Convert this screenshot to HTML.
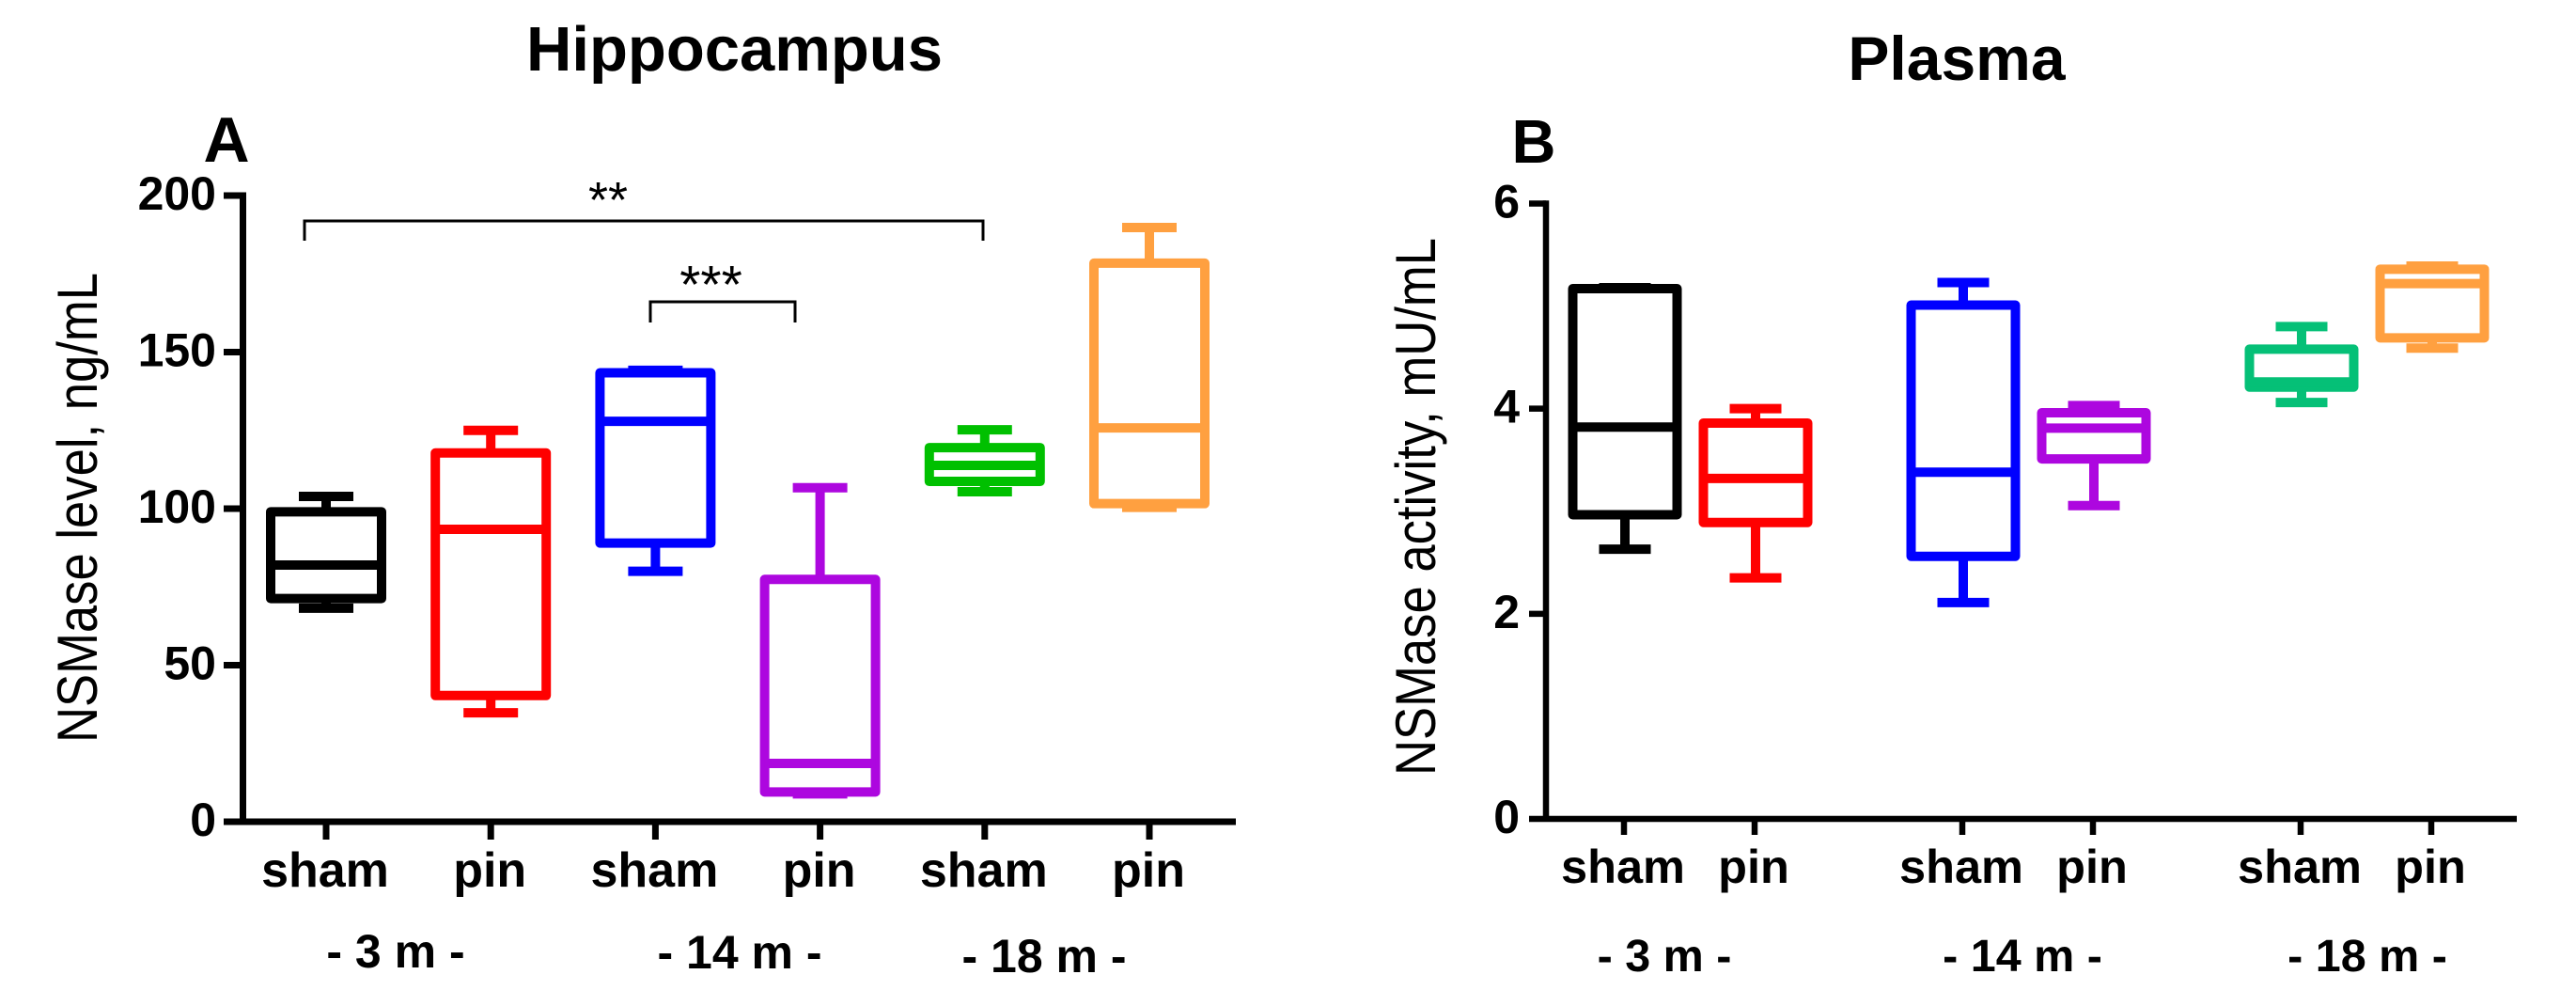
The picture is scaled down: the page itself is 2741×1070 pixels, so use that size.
<!DOCTYPE html>
<html lang="en">
<head>
<meta charset="utf-8">
<title>NSMase in hippocampus and plasma</title>
<style>
html,body{margin:0;padding:0;background:#fff;width:2741px;height:1070px;overflow:hidden}
svg{display:block}
text{font-family:"Liberation Sans",Arial,sans-serif;fill:#000}
.b{font-weight:700}
</style>
</head>
<body>
<svg id="fig" xmlns="http://www.w3.org/2000/svg" width="2741" height="1070" viewBox="0 0 2741 1070">
  <text class="b" x="781.5" y="75" font-size="67" text-anchor="middle">Hippocampus</text>
  <text class="b" x="2082" y="85" font-size="66" text-anchor="middle">Plasma</text>
  <text class="b" x="241" y="172" font-size="68" text-anchor="middle">A</text>
  <text class="b" x="1632" y="173" font-size="65" text-anchor="middle">B</text>

  <text transform="translate(103,790) rotate(-90)" font-size="60" textLength="500" lengthAdjust="spacingAndGlyphs">NSMase level, ng/mL</text>
  <text transform="translate(1527,825) rotate(-90)" font-size="60" textLength="572" lengthAdjust="spacingAndGlyphs">NSMase activity, mU/mL</text>

  <text class="b" x="421" y="1029" font-size="50" text-anchor="middle" xml:space="preserve">- 3 m -</text>
  <text class="b" x="787" y="1030" font-size="50" text-anchor="middle" xml:space="preserve">- 14 m -</text>
  <text class="b" x="1111" y="1034" font-size="50" text-anchor="middle" xml:space="preserve">- 18 m -</text>
  <text class="b" x="1771" y="1033" font-size="48.5" text-anchor="middle" xml:space="preserve">- 3 m -</text>
  <text class="b" x="2152" y="1033" font-size="48.5" text-anchor="middle" xml:space="preserve">- 14 m -</text>
  <text class="b" x="2519" y="1033" font-size="48.5" text-anchor="middle" xml:space="preserve">- 18 m -</text>

  <path d="M324 256V235H1046V256" fill="none" stroke="#000" stroke-width="3"/>
  <path d="M692 343V321H846V343" fill="none" stroke="#000" stroke-width="3"/>
  <text x="647" y="231" font-size="54" text-anchor="middle">**</text>
  <text x="756.5" y="322" font-size="57" text-anchor="middle">***</text>

  <g id="panelA"></g>
  <g id="panelB"></g>
</svg>
<script>
const categories = ['sham', 'pin', 'sham', 'pin', 'sham', 'pin'];

const hipMin = [68.2, 34.8, 80, 8.9, 105.4, 100.4];
const hipQ1 = [71.3, 40.3, 89, 9.5, 108.7, 101.6];
const hipMedian = [82, 93.4, 127.9, 18.6, 113.8, 125.8];
const hipQ3 = [99, 117.8, 143.4, 77.4, 119.5, 178.4];
const hipMax = [103.9, 125, 144.2, 106.7, 125.2, 189.8];
const hipTicks = [0, 50, 100, 150, 200];

const plaMin = [2.63, 2.35, 2.11, 3.055, 4.06, 4.59];
const plaQ1 = [2.966, 2.89, 2.56, 3.51, 4.21, 4.69];
const plaMedian = [3.82, 3.32, 3.38, 3.81, 4.26, 5.22];
const plaQ3 = [5.17, 3.86, 5.01, 3.96, 4.58, 5.36];
const plaMax = [5.18, 4.0, 5.23, 4.03, 4.80, 5.39];
const plaTicks = [0, 2, 4, 6];

const hipColors = ['#000000', '#ff0000', '#0000ff', '#ad07df', '#00c000', '#ffa040'];
const plaColors = ['#000000', '#ff0000', '#0000ff', '#ad07df', '#05c077', '#ffa040'];

const NS = 'http://www.w3.org/2000/svg';

function make(parent, tag, attrs, content) {
  const node = document.createElementNS(NS, tag);
  for (const k in attrs) node.setAttribute(k, attrs[k]);
  if (content !== undefined) node.textContent = content;
  parent.appendChild(node);
  return node;
}

function yHip(v) { return 874 - v * (874 - 208) / 200; }
function xHip(i) { return 347 + 175.2 * i; }
function yPla(v) { return 871 - v * (871 - 216.5) / 6; }
function xPla(i) { return 1728 + Math.floor(i / 2) * 360 + (i % 2) * 139; }

function drawPanel(cfg) {
  const root = cfg.root;
  const yAxis = make(root, 'line', {x1: cfg.axisX, x2: cfg.axisX, y1: cfg.y(cfg.ticks[cfg.ticks.length - 1]) - cfg.axisW / 2, y2: cfg.y(0), stroke: '#000', 'stroke-width': cfg.axisW});
  
  
  const xAxis = make(root, 'line', {x1: cfg.tickLeft, x2: cfg.xEnd, y1: cfg.y(0), y2: cfg.y(0), stroke: '#000', 'stroke-width': cfg.axisW});
  
  

  cfg.ticks.forEach(function (t) {
    const yy = cfg.y(t);
    if (t !== 0) {
      const tk = make(root, 'line', {x1: cfg.tickLeft, x2: cfg.axisX, y1: yy, y2: yy, stroke: '#000', 'stroke-width': cfg.axisW});
      
      
    }
    const lb = make(root, 'text', {x: cfg.labelRight, y: yy + 15, 'font-size': 50, 'text-anchor': 'end', 'font-weight': 700}, String(t));
    
    
  });

  categories.forEach(function (name, i) {
    const tx = cfg.x(i);
    const tk = make(root, 'line', {x1: tx, x2: tx, y1: cfg.y(0), y2: cfg.tickBottom, stroke: '#000', 'stroke-width': cfg.axisW});
    
    
    const lb = make(root, 'text', {x: tx - 1, y: cfg.catBase, 'font-size': cfg.catFont, 'text-anchor': 'middle', 'font-weight': 700}, name);
    
    

    const cx = tx + cfg.boxShift;
    const color = cfg.colors[i];
    const box = make(root, 'g', {stroke: color, 'stroke-width': 10, fill: 'none'});
    
    

    const stem = make(box, 'path', {d: 'M' + cx + ' ' + cfg.y(cfg.max[i]) + 'V' + cfg.y(cfg.q3[i]) + 'M' + cx + ' ' + cfg.y(cfg.q1[i]) + 'V' + cfg.y(cfg.min[i])});
    
    
    const capTop = make(box, 'line', {x1: cx - cfg.capHalf, x2: cx + cfg.capHalf, y1: cfg.y(cfg.max[i]), y2: cfg.y(cfg.max[i])});
    
    
    const capLow = make(box, 'line', {x1: cx - cfg.capHalf, x2: cx + cfg.capHalf, y1: cfg.y(cfg.min[i]), y2: cfg.y(cfg.min[i])});
    
    
    const rect = make(box, 'rect', {x: cx - cfg.boxHalf, width: cfg.boxHalf * 2, y: cfg.y(cfg.q3[i]), height: cfg.y(cfg.q1[i]) - cfg.y(cfg.q3[i]), 'stroke-linejoin': 'round'});
    
    
    const med = make(box, 'line', {x1: cx - cfg.boxHalf, x2: cx + cfg.boxHalf, y1: cfg.y(cfg.median[i]), y2: cfg.y(cfg.median[i])});
    
    
  });
}

drawPanel({
  id: 'a', root: document.getElementById('panelA'),
  x: xHip, y: yHip, ticks: hipTicks, colors: hipColors,
  min: hipMin, q1: hipQ1, median: hipMedian, q3: hipQ3, max: hipMax,
  axisX: 258.5, axisW: 7, tickLeft: 238, xEnd: 1315, tickBottom: 893,
  labelRight: 230, catBase: 943, catFont: 52, boxShift: 0, boxHalf: 59, capHalf: 29
});

drawPanel({
  id: 'b', root: document.getElementById('panelB'),
  x: xPla, y: yPla, ticks: plaTicks, colors: plaColors,
  min: plaMin, q1: plaQ1, median: plaMedian, q3: plaQ3, max: plaMax,
  axisX: 1645, axisW: 6.5, tickLeft: 1627, xEnd: 2678, tickBottom: 888,
  labelRight: 1617, catBase: 939, catFont: 50.5, boxShift: 1, boxHalf: 55.5, capHalf: 27.5
});
</script>
</body>
</html>
